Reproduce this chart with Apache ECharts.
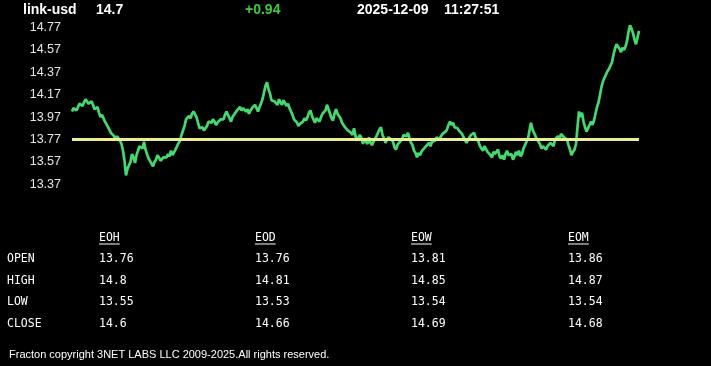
<!DOCTYPE html>
<html>
<head>
<meta charset="utf-8">
<script src="https://cdn.jsdelivr.net/npm/echarts@6/dist/echarts.min.js"></script>
<style>
html,body{margin:0;padding:0;background:#000;}
#chart{width:711px;height:366px;}
</style>
</head>
<body>
<div id="chart"></div>
<script>
// ---- header ----
const headerSymbol = 'link-usd';
const headerPrice = '14.7';
const headerChange = '+0.94';
const headerDate = '2025-12-09';
const headerTime = '11:27:51';

// ---- y axis tick labels ----
const yTicks = [13.37, 13.57, 13.77, 13.97, 14.17, 14.37, 14.57, 14.77];

// ---- reference (yellow) level ----
const baseline = 13.77;

// ---- price series ----
const prices = [
14.02,14.05,14.04,14.03,14.06,14.09,14.08,14.07,14.10,14.13,14.12,14.09,14.10,14.11,14.08,14.04,
14.05,14.06,14.01,13.97,13.99,13.98,13.93,13.92,13.88,13.87,13.83,13.84,13.80,13.77,13.80,13.79,
13.76,13.73,13.67,13.58,13.45,13.51,13.54,13.57,13.64,13.61,13.56,13.63,13.67,13.71,13.71,13.69,
13.75,13.68,13.64,13.60,13.58,13.57,13.53,13.57,13.59,13.63,13.61,13.58,13.57,13.61,13.60,13.61,
13.64,13.62,13.67,13.63,13.63,13.68,13.71,13.72,13.76,13.81,13.85,13.89,13.95,13.96,13.98,13.96,
14.00,14.02,14.03,13.97,13.92,13.87,13.86,13.88,13.85,13.86,13.89,13.93,13.94,13.92,13.95,13.93,
13.90,13.92,13.91,13.95,13.96,13.95,13.99,14.02,14.03,13.96,13.93,13.97,13.98,14.01,14.03,14.02,
14.06,14.03,14.05,14.06,14.02,14.04,14.00,14.03,14.05,14.04,14.08,14.05,14.02,14.06,14.09,14.13,
14.19,14.25,14.28,14.22,14.18,14.12,14.13,14.11,14.10,14.08,14.13,14.10,14.08,14.12,14.11,14.07,
14.09,14.05,14.02,13.99,13.95,13.95,13.92,13.89,13.91,13.90,13.93,13.96,13.94,13.97,14.01,14.03,
13.98,13.95,13.92,13.96,13.96,13.93,13.97,14.00,13.99,14.03,14.08,14.04,14.00,13.96,13.94,14.00,
14.04,14.00,14.01,13.96,13.92,13.90,13.88,13.89,13.85,13.86,13.83,13.81,13.87,13.80,13.76,13.79,
13.81,13.78,13.73,13.78,13.75,13.73,13.79,13.74,13.72,13.75,13.76,13.80,13.83,13.86,13.88,13.81,
13.78,13.74,13.77,13.79,13.80,13.77,13.75,13.70,13.68,13.72,13.74,13.73,13.77,13.81,13.82,13.80,
13.83,13.78,13.74,13.72,13.67,13.65,13.61,13.65,13.63,13.66,13.68,13.67,13.71,13.70,13.74,13.71,
13.75,13.74,13.76,13.79,13.79,13.77,13.80,13.82,13.83,13.84,13.86,13.90,13.93,13.90,13.92,13.88,
13.89,13.87,13.85,13.86,13.82,13.79,13.78,13.74,13.75,13.79,13.81,13.80,13.83,13.79,13.77,13.75,
13.71,13.72,13.67,13.71,13.70,13.66,13.67,13.63,13.61,13.66,13.64,13.66,13.68,13.62,13.60,13.63,
13.59,13.64,13.67,13.63,13.62,13.64,13.59,13.62,13.66,13.63,13.67,13.62,13.64,13.69,13.72,13.75,
13.78,13.85,13.92,13.86,13.83,13.80,13.77,13.76,13.73,13.69,13.71,13.72,13.68,13.71,13.70,13.74,
13.73,13.71,13.77,13.76,13.80,13.77,13.82,13.83,13.79,13.80,13.77,13.72,13.68,13.63,13.66,13.68,
13.73,13.88,14.02,13.97,14.01,13.93,13.88,13.84,13.85,13.90,13.93,13.90,13.94,14.00,14.06,14.10,
14.17,14.24,14.29,14.30,14.35,14.38,14.40,14.41,14.46,14.53,14.58,14.62,14.63,14.58,14.55,14.59,
14.57,14.60,14.65,14.73,14.79,14.76,14.72,14.66,14.62,14.68,14.74
];

// ---- table ----
const tableColumns = ['EOH', 'EOD', 'EOW', 'EOM'];
const rowLabels = ['OPEN', 'HIGH', 'LOW', 'CLOSE'];
const eohValues = [13.76, 14.8, 13.55, 14.6];
const eodValues = [13.76, 14.81, 13.53, 14.66];
const eowValues = [13.81, 14.85, 13.54, 14.69];
const eomValues = [13.86, 14.87, 13.54, 14.68];
const tableValues = [eohValues, eodValues, eowValues, eomValues];

const footerText = 'Fracton copyright 3NET LABS LLC 2009-2025.All rights reserved.';

// ---- build ----
const sans = '"Liberation Sans", Arial, sans-serif';
const mono = '"DejaVu Sans Mono", monospace';
const chart = echarts.init(document.getElementById('chart'), null, {renderer: 'canvas'});

const graphics = [];
function txt(x, y, text, opts) {
  graphics.push({
    type: 'text', x: x, y: y, silent: true,
    style: Object.assign({text: text, fill: '#ffffff', align: 'left', verticalAlign: 'middle'}, opts)
  });
}
// header
txt(23, 10, headerSymbol, {font: 'bold 14px ' + sans});
txt(96, 10, headerPrice, {font: 'bold 14px ' + sans});
txt(245, 10, headerChange, {font: 'bold 14px ' + sans, fill: '#3ccc3c'});
txt(357, 10, headerDate, {font: 'bold 14px ' + sans});
txt(444, 10, headerTime, {font: 'bold 14px ' + sans});

// table
const monoFont = '11.5px ' + mono;
const colX = [99, 255, 411, 568];
const rowY = [259, 281, 302.5, 324];
tableColumns.forEach(function (c, i) {
  txt(colX[i], 238, c, {font: monoFont});
  graphics.push({type: 'line', silent: true,
    shape: {x1: colX[i], y1: 244, x2: colX[i] + c.length * 6.9, y2: 244},
    style: {stroke: '#ffffff', lineWidth: 1}});
  tableValues[i].forEach(function (v, r) {
    txt(colX[i], rowY[r], String(v), {font: monoFont});
  });
});
rowLabels.forEach(function (l, r) {
  txt(7, rowY[r], l, {font: monoFont});
});
// footer
txt(9, 355, footerText, {font: '11px ' + sans});

const option = {
  backgroundColor: '#000000',
  animation: false,
  grid: {left: 72, right: 72, top: 27.5, height: 156.8},
  xAxis: {
    type: 'category', show: false, boundaryGap: false,
    data: prices.map(function (_, i) { return i; })
  },
  yAxis: {
    type: 'value', min: yTicks[0], max: yTicks[yTicks.length - 1],
    axisLine: {show: false}, axisTick: {show: false}, splitLine: {show: false},
    axisLabel: {
      customValues: yTicks,
      color: '#e6e6e6', fontSize: 12.5, fontFamily: sans, margin: 11,
      formatter: function (v) { return Number(v).toFixed(2); }
    }
  },
  series: [{
    type: 'line', data: prices, showSymbol: false, clip: false,
    lineStyle: {color: '#40dc70', width: 2.7},
    itemStyle: {color: '#40dc70'},
    z: 3,
    markLine: {
      silent: true, symbol: 'none', animation: false,
      label: {show: false},
      lineStyle: {color: '#ebf08c', width: 3, type: 'solid'},
      data: [{yAxis: baseline}]
    }
  }],
  graphic: graphics
};
chart.setOption(option);
</script>
</body>
</html>
